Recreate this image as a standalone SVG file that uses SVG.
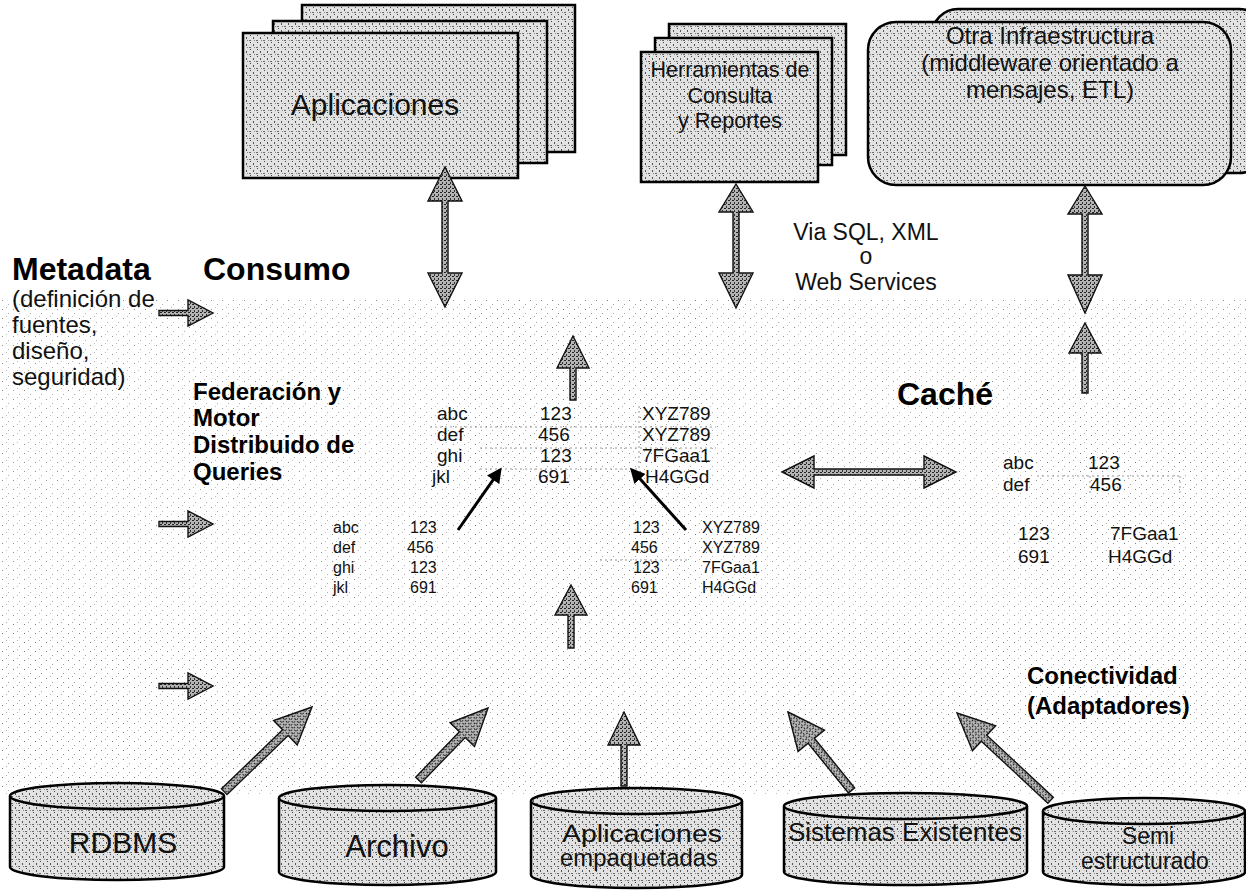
<svg xmlns="http://www.w3.org/2000/svg" width="1246" height="892" viewBox="0 0 1246 892">
<defs>
<pattern id="stip" width="7" height="7" patternUnits="userSpaceOnUse">
<rect width="7" height="7" fill="#e2e2e2"/>
<rect x="1" y="2" width="1" height="2" fill="#555"/>
<rect x="4" y="5" width="2" height="1" fill="#6a6a6a"/>
<rect x="5" y="0" width="1" height="1" fill="#444"/>
<rect x="2" y="5" width="1" height="1" fill="#888"/>
</pattern>
<pattern id="hatch" width="4" height="4" patternUnits="userSpaceOnUse">
<rect width="4" height="4" fill="#b4b4b4"/>
<rect x="0" y="0" width="2" height="1" fill="#222"/>
<rect x="2" y="2" width="1" height="2" fill="#333"/>
</pattern>
<pattern id="bgdots" width="11" height="9" patternUnits="userSpaceOnUse">
<rect x="2" y="3" width="1" height="1" fill="#777"/>
<rect x="8" y="7" width="1" height="1" fill="#999"/>
<rect x="6" y="1" width="1" height="1" fill="#aaa"/>
</pattern>
<marker id="tri" viewBox="0 0 10 10" refX="8" refY="5" markerWidth="5" markerHeight="5" orient="auto" markerUnits="strokeWidth">
<path d="M0,0 L10,5 L0,10 Z" fill="#000"/>
</marker>
<style>
.box{fill:url(#stip);stroke:#000;stroke-width:2.5}
.cyl{fill:url(#stip);stroke:#000;stroke-width:2.5}
.blk{fill:url(#hatch);stroke:#111;stroke-width:1.4;stroke-linejoin:miter}
.thin{fill:none;stroke:#000;stroke-width:3;marker-end:url(#tri)}
.grid{stroke:#999;stroke-width:1;stroke-dasharray:2 3;fill:none}
.t{font-family:"Liberation Sans",Arial,sans-serif;fill:#111}
.h{font-family:"Liberation Sans",Arial,sans-serif;font-weight:bold;fill:#000}
.tab{font-family:"Liberation Sans",Arial,sans-serif;font-size:19px;fill:#111}
.tabs{font-family:"Liberation Sans",Arial,sans-serif;font-size:16px;fill:#111}
</style>
</defs>
<rect width="1246" height="892" fill="#fff"/>
<rect x="0" y="300" width="1246" height="495" fill="url(#bgdots)" opacity="0.8"/>
<rect x="0" y="620" width="1246" height="170" fill="url(#bgdots)" opacity="0.9"/>
<rect x="470" y="300" width="240" height="340" fill="url(#bgdots)" opacity="0.7"/>
<rect x="1040" y="390" width="206" height="220" fill="url(#bgdots)" opacity="0.8"/>

<g id="aplicaciones">
<rect class="box" x="302" y="5" width="273" height="147"/>
<rect class="box" x="273" y="21" width="274" height="142"/>
<rect class="box" x="243" y="33" width="275" height="145"/>
<text class="t" x="375" y="115" font-size="30" text-anchor="middle">Aplicaciones</text>
</g>

<g id="herramientas">
<rect class="box" x="669" y="24" width="177" height="131"/>
<rect class="box" x="655" y="38" width="177" height="127"/>
<rect class="box" x="641" y="52" width="177" height="130"/>
<text class="t" font-size="21.5" text-anchor="middle"><tspan x="730" y="77">Herramientas de</tspan><tspan x="730" y="103">Consulta</tspan><tspan x="730" y="128">y Reportes</tspan></text>
</g>

<g id="otra-infraestructura">
<rect class="box" x="932" y="9" width="333" height="164" rx="26"/>
<rect class="box" x="868" y="22" width="363" height="163" rx="28"/>
<text class="t" font-size="24" text-anchor="middle"><tspan x="1050" y="44">Otra Infraestructura</tspan><tspan x="1050" y="71">(middleware orientado a</tspan><tspan x="1050" y="98">mensajes, ETL)</tspan></text>
</g>

<g id="via">
<text class="t" font-size="23" text-anchor="middle"><tspan x="866" y="240">Via SQL, XML</tspan><tspan x="866" y="264">o</tspan><tspan x="866" y="290">Web Services</tspan></text>
</g>

<g id="metadata">
<text class="h" x="12" y="280" font-size="32">Metadata</text>
<text class="t" font-size="24"><tspan x="12" y="307">(definición de</tspan><tspan x="12" y="333">fuentes,</tspan><tspan x="12" y="359">diseño,</tspan><tspan x="12" y="385">seguridad)</tspan></text>
</g>

<g id="consumo">
<text class="h" x="203" y="280" font-size="32">Consumo</text>
</g>

<g id="federacion">
<text class="h" font-size="24"><tspan x="193" y="400">Federación y</tspan><tspan x="193" y="426">Motor</tspan><tspan x="193" y="453">Distribuido de</tspan><tspan x="193" y="480">Queries</tspan></text>
</g>

<g id="tabla-federada">
<path class="grid" d="M430,427 H716 M480,448 H716 M480,469 H640 M639,406 V476"/>
<text class="tab"><tspan x="437" y="420">abc</tspan><tspan x="437" y="441">def</tspan><tspan x="437" y="462">ghi</tspan><tspan x="432" y="483">jkl</tspan></text>
<text class="tab"><tspan x="540" y="420">123</tspan><tspan x="538" y="441">456</tspan><tspan x="540" y="462">123</tspan><tspan x="538" y="483">691</tspan></text>
<text class="tab"><tspan x="642" y="420">XYZ789</tspan><tspan x="642" y="441">XYZ789</tspan><tspan x="642" y="462">7FGaa1</tspan><tspan x="645" y="483">H4GGd</tspan></text>
</g>

<g id="tabla-izquierda">
<text class="tabs"><tspan x="333" y="533">abc</tspan><tspan x="333" y="553">def</tspan><tspan x="333" y="573">ghi</tspan><tspan x="333" y="593">jkl</tspan></text>
<text class="tabs"><tspan x="410" y="533">123</tspan><tspan x="407" y="553">456</tspan><tspan x="410" y="573">123</tspan><tspan x="410" y="593">691</tspan></text>
</g>

<g id="tabla-derecha">
<path class="grid" d="M600,560 H690"/>
<text class="tabs"><tspan x="633" y="533">123</tspan><tspan x="631" y="553">456</tspan><tspan x="633" y="573">123</tspan><tspan x="631" y="593">691</tspan></text>
<text class="tabs"><tspan x="702" y="533">XYZ789</tspan><tspan x="702" y="553">XYZ789</tspan><tspan x="702" y="573">7FGaa1</tspan><tspan x="702" y="593">H4GGd</tspan></text>
</g>

<g id="cache">
<text class="h" x="897" y="405" font-size="32">Caché</text>
<path class="grid" d="M1037,476 H1180 M1090,476 V496 M1180,476 V496"/>
<text class="tab"><tspan x="1003" y="469">abc</tspan><tspan x="1003" y="491">def</tspan></text>
<text class="tab"><tspan x="1088" y="469">123</tspan><tspan x="1090" y="491">456</tspan></text>
<text class="tab"><tspan x="1018" y="540">123</tspan><tspan x="1018" y="563">691</tspan></text>
<text class="tab"><tspan x="1110" y="540">7FGaa1</tspan><tspan x="1108" y="563">H4GGd</tspan></text>
</g>

<g id="conectividad">
<text class="h" font-size="24"><tspan x="1027" y="684">Conectividad</tspan><tspan x="1027" y="714">(Adaptadores)</tspan></text>
</g>

<g id="rdbms">
<path class="cyl" d="M10,796 V867 A107,13 0 0 0 224,867 V796"/>
<ellipse class="cyl" cx="117" cy="796" rx="107" ry="13"/>
<text class="t" x="123" y="853" font-size="30" text-anchor="middle">RDBMS</text>
</g>

<g id="archivo">
<path class="cyl" d="M279,798 V872 A108.5,13 0 0 0 496,872 V798"/>
<ellipse class="cyl" cx="387.5" cy="798" rx="108.5" ry="13"/>
<text class="t" x="397" y="857" font-size="31" text-anchor="middle">Archivo</text>
</g>

<g id="aplicaciones-empaquetadas">
<path class="cyl" d="M531,801 V875 A105.5,13 0 0 0 742,875 V801"/>
<ellipse class="cyl" cx="636.5" cy="801" rx="105.5" ry="13"/>
<text class="t" font-size="23" text-anchor="middle"><tspan x="642" y="842" textLength="160" lengthAdjust="spacingAndGlyphs">Aplicaciones</tspan><tspan x="639" y="866" textLength="158" lengthAdjust="spacingAndGlyphs">empaquetadas</tspan></text>
</g>

<g id="sistemas-existentes">
<path class="cyl" d="M784,806 V872 A121.5,13 0 0 0 1027,872 V806"/>
<ellipse class="cyl" cx="905.5" cy="806" rx="121.5" ry="13"/>
<text class="t" x="905" y="841" font-size="26" text-anchor="middle">Sistemas Existentes</text>
</g>

<g id="semi-estructurado">
<path class="cyl" d="M1043,811 V872 A101,13 0 0 0 1245,872 V811"/>
<ellipse class="cyl" cx="1144" cy="811" rx="101" ry="13"/>
<text class="t" font-size="23" text-anchor="middle"><tspan x="1148" y="844">Semi</tspan><tspan x="1145" y="869">estructurado</tspan></text>
</g>

<g id="connectors">
<polygon class="blk" points="445,167 462,201 448,201 448,273 462,273 445,307 428,273 442,273 442,201 428,201"/>
<polygon class="blk" points="736,184 753,212 739,212 739,273 753,273 736,308 719,273 733,273 733,212 719,212"/>
<polygon class="blk" points="1085,186 1102,214 1088,214 1088,275 1102,275 1085,313 1068,275 1082,275 1082,214 1068,214"/>
<polygon class="blk" points="1085,323 1101,353 1088,353 1088,393 1082,393 1082,353 1069,353"/>
<polygon class="blk" points="573,336 589,368 576,368 576,400 570,400 570,368 557,368"/>
<polygon class="blk" points="571,585 587,615 574,615 574,648 568,648 568,615 555,615"/>
<polygon class="blk" points="624,712 640,745 627,745 627,786 621,786 621,745 608,745"/>
<polygon class="blk" points="782,472 814,456 814,469 924,469 924,456 956,472 924,488 924,475 814,475 814,488"/>
<polygon class="blk" points="159,310.5 188,310.5 188,300 213,313 188,326 188,315.5 159,315.5"/>
<polygon class="blk" points="159,521.5 188,521.5 188,511 213,524 188,537 188,526.5 159,526.5"/>
<polygon class="blk" points="159,683.5 188,683.5 188,673 213,686 188,699 188,688.5 159,688.5"/>
<polygon class="blk" transform="translate(312,707) rotate(46)" points="0,0 17,37 4,37 4,122 -4,122 -4,37 -17,37"/>
<polygon class="blk" transform="translate(488,708) rotate(44)" points="0,0 17,37 4,37 4,100 -4,100 -4,37 -17,37"/>
<polygon class="blk" transform="translate(788,712) rotate(-39)" points="0,0 17,37 4,37 4,101 -4,101 -4,37 -17,37"/>
<polygon class="blk" transform="translate(957,713) rotate(-47)" points="0,0 17,37 4,37 4,128 -4,128 -4,37 -17,37"/>
<path class="thin" d="M458,530 L500,470"/>
<path class="thin" d="M686,530 L632,470"/>
</g>
</svg>
